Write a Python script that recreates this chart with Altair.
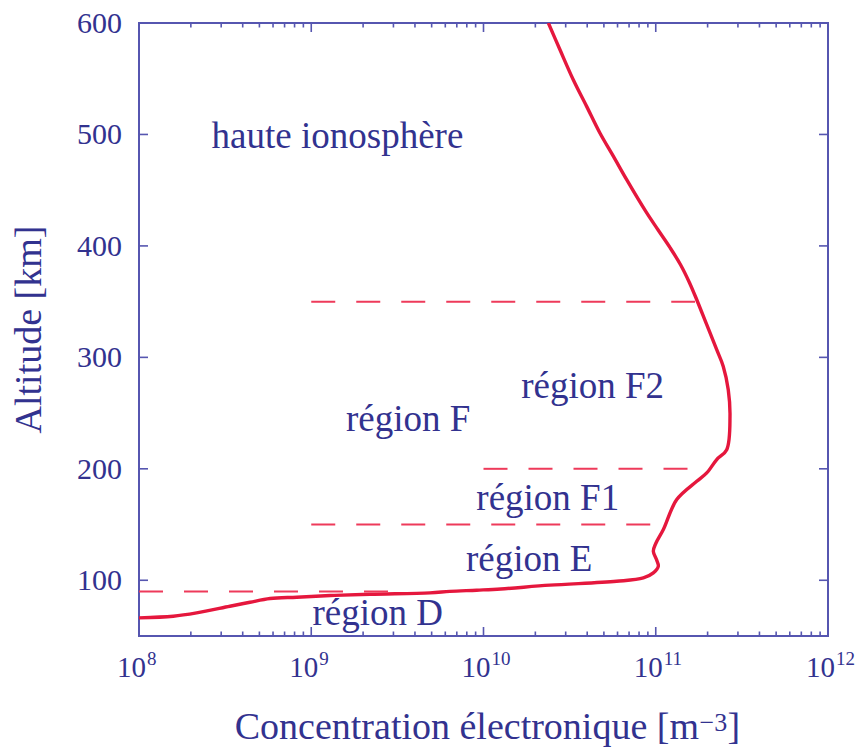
import altair as alt
import pandas as pd

# Electron density profile of the ionosphere (altitude vs. concentration)
concentration = [
    1.00e8, 1.58e8, 2.16e8, 3.37e8, 4.41e8, 5.77e8, 8.24e8, 1.29e9, 2.19e9,
    4.89e9, 6.38e9, 9.12e9, 1.26e10, 2.43e10, 5.92e10, 8.47e10, 9.68e10,
    1.035e11, 1.01e11, 9.68e10, 1.00e11, 1.107e11, 1.324e11, 1.730e11,
    1.977e11, 2.259e11, 2.582e11, 2.698e11, 2.636e11, 2.466e11, 2.259e11,
    1.977e11, 1.730e11, 1.570e11, 1.393e11, 1.211e11, 1.030e11, 8.77e10,
    6.78e10, 5.68e10, 4.74e10, 3.97e10, 3.32e10, 2.78e10, 2.38e10,
]
altitude = [
    66.3, 67.7, 70.7, 76.7, 80.3, 83.6, 84.8, 86.3, 87.5,
    88.7, 90.0, 91.1, 92.2, 95.6, 99.1, 102.1, 106.6,
    112.6, 118.6, 126.0, 133.0, 145.5, 172.4, 188.8,
    196.3, 208.3, 217.2, 247.1, 271.0, 291.9, 306.9,
    329.3, 351.7, 367.0, 383.1, 398.4, 414.5, 430.7,
    459.4, 480.3, 501.3, 525.2, 549.1, 576.0, 600.0,
]

# Region boundaries (dashed)
boundary_alt = [90, 150, 200, 350]
boundary_from = [1e8, 1e9, 1e10, 1e9]
boundary_to = [3.0e9, 1e11, 2.0e11, 1.69e11]

# Region names
region_names = ["haute ionosphère", "région F2", "région F", "région F1", "région E", "région D"]
region_x = [1.42e9, 4.3e10, 3.65e9, 2.36e10, 1.84e10, 2.43e9]
region_y = [488, 263.6, 233.6, 163.4, 108.1, 60.3]

# Axis ticks and labels
x_major = [1e8, 1e9, 1e10, 1e11, 1e12]
x_exponents = ["8", "9", "10", "11", "12"]
x_minor = [k * 10.0 ** e for e in range(8, 12) for k in range(2, 10)]
y_major = [100, 200, 300, 400, 500, 600]
x_title = ["Concentration électronique [m", "−3", "]"]
y_title = "Altitude [km]"

W, H = 689, 613
INK = "#32328f"
FRAME = "#5656b0"
RED = "#e5173d"
DASH = "#ee3a5a"
FONT = "Liberation Serif"

xscale = alt.Scale(type="log", domain=[1e8, 1e12], nice=False)
yscale = alt.Scale(domain=[50, 600], nice=False, zero=False)

profile = pd.DataFrame({"i": range(len(altitude)), "n": concentration, "h": altitude})
bounds = pd.DataFrame({"h": boundary_alt, "n0": boundary_from, "n1": boundary_to})
regions = pd.DataFrame({"label": region_names, "n": region_x, "h": region_y})
xmaj = pd.DataFrame({"n": x_major, "exp": x_exponents})
xmin = pd.DataFrame({"n": x_minor})
ymaj = pd.DataFrame({"h": y_major, "txt": [str(v) for v in y_major]})
titles = pd.DataFrame({"x0": [x_title[0]], "x1": [x_title[1]], "x2": [x_title[2]], "y": [y_title]})

X = lambda f: alt.X(f, scale=xscale, axis=None)
Y = lambda f: alt.Y(f, scale=yscale, axis=None)
XD = lambda v: alt.XDatum(v, scale=xscale, axis=None)
YD = lambda v: alt.YDatum(v, scale=yscale, axis=None)

curve = alt.Chart(profile).mark_line(
    color=RED, strokeWidth=3.4, interpolate="catmull-rom", clip=True
).encode(x=X("n:Q"), y=Y("h:Q"), order=alt.Order("i:Q"))

dashes = alt.Chart(bounds).mark_rule(
    color=DASH, strokeWidth=2, strokeDash=[24, 21]
).encode(x=X("n0:Q"), x2="n1:Q", y=Y("h:Q"))

names = alt.Chart(regions).mark_text(
    font=FONT, fontSize=37, color=INK, align="center", baseline="alphabetic"
).encode(x=X("n:Q"), y=Y("h:Q"), text="label:N")

# Inward ticks on all four sides
def xticks(df, length):
    rule = alt.Chart(df).mark_rule(color=FRAME, strokeWidth=1.6)
    return [
        rule.encode(x=X("n:Q"), y=alt.value(H), y2=alt.value(H - length)),
        rule.encode(x=X("n:Q"), y=alt.value(0), y2=alt.value(length)),
    ]

yrule = alt.Chart(ymaj).mark_rule(color=FRAME, strokeWidth=1.6)
left_ticks = yrule.encode(y=Y("h:Q"), x=alt.value(0), x2=alt.value(9))
right_ticks = yrule.encode(y=Y("h:Q"), x=alt.value(W), x2=alt.value(W - 9))

# Tick labels: powers of ten along x, plain values along y
base_labels = alt.Chart(xmaj).mark_text(
    font=FONT, fontSize=29, color=INK, align="right", baseline="alphabetic", dx=7, dy=41
).encode(x=X("n:Q"), y=YD(50), text=alt.value("10"))

exp_labels = alt.Chart(xmaj).mark_text(
    font=FONT, fontSize=19, color=INK, align="left", baseline="alphabetic", dx=8, dy=29
).encode(x=X("n:Q"), y=YD(50), text="exp:N")

y_labels = alt.Chart(ymaj).mark_text(
    font=FONT, fontSize=30, color=INK, align="right", baseline="middle", dx=-17, dy=1
).encode(x=XD(1e8), y=Y("h:Q"), text="txt:N")

# Axis titles (x title with a raised exponent)
title_base = alt.Chart(titles)
x_title_main = title_base.mark_text(
    font=FONT, fontSize=38, color=INK, align="right", baseline="alphabetic", dx=215.5, dy=103
).encode(x=XD(1e10), y=YD(50), text="x0:N")
x_title_exp = title_base.mark_text(
    font=FONT, fontSize=26, color=INK, align="left", baseline="alphabetic", dx=216, dy=95
).encode(x=XD(1e10), y=YD(50), text="x1:N")
x_title_end = title_base.mark_text(
    font=FONT, fontSize=38, color=INK, align="left", baseline="alphabetic", dx=244, dy=103
).encode(x=XD(1e10), y=YD(50), text="x2:N")
y_title_mark = title_base.mark_text(
    font=FONT, fontSize=38, color=INK, align="center", baseline="alphabetic",
    angle=270, dy=-98,
).encode(x=XD(1e8), y=YD(325), text="y:N")

chart = alt.layer(
    curve, dashes, names,
    *xticks(xmaj, 9), *xticks(xmin, 4.5), left_ticks, right_ticks,
    base_labels, exp_labels, y_labels,
    x_title_main, x_title_exp, x_title_end, y_title_mark,
).properties(
    width=W, height=H,
    autosize=alt.AutoSizeParams(type="none"),
    padding={"left": 139, "top": 23, "right": 29, "bottom": 111},
    background="white",
).configure_view(
    stroke=FRAME, strokeWidth=2
)

chart.save("out.html", embed_options={"renderer": "svg", "actions": False})
